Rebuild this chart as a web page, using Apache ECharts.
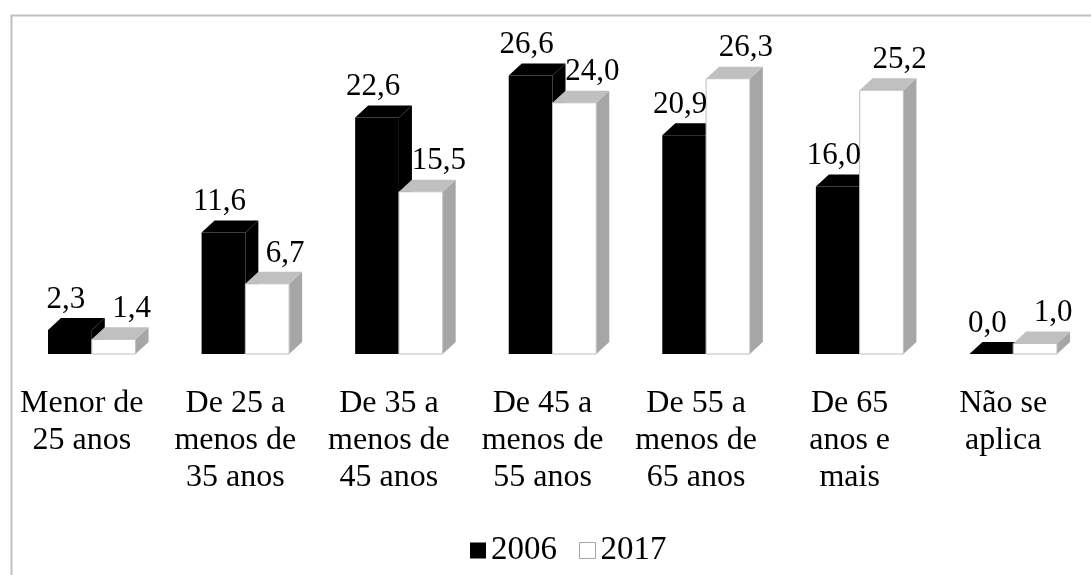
<!DOCTYPE html>
<html>
<head>
<meta charset="utf-8">
<script src="https://cdn.jsdelivr.net/npm/echarts@6/dist/echarts.min.js"></script>
<style>
  html, body { margin: 0; padding: 0; background: #fff; }
  #chart { width: 1091px; height: 575px; }
</style>
</head>
<body>
<div id="chart"></div>
<script>
var categories = [
  'Menor de\n25 anos',
  'De 25 a\nmenos de\n35 anos',
  'De 35 a\nmenos de\n45 anos',
  'De 45 a\nmenos de\n55 anos',
  'De 55 a\nmenos de\n65 anos',
  'De 65\nanos e\nmais',
  'Não se\naplica'
];
var values2006 = [2.3, 11.6, 22.6, 26.6, 20.9, 16.0, 0.0];
var values2017 = [1.4, 6.7, 15.5, 24.0, 26.3, 25.2, 1.0];

var FONT = '"Liberation Serif", "Times New Roman", serif';
var DX = 13, DY = 12;   // fake 3d depth

function fmt(v) {
  return v.toFixed(1).replace('.', ',');
}

// draws one box-shaped bar; side 0 = left of the category centre, 1 = right
function barRenderer(side, faces, labelShift) {
  return function (params, api) {
    var i = api.value(0), v = api.value(1);
    var p0 = api.coord([i, 0]);
    var p1 = api.coord([i, v]);
    var w = api.size([1, 0])[0] * 0.285;
    var x0 = side ? p0[0] : p0[0] - w;
    var x1 = x0 + w;
    var yb = p0[1], yt = p1[1];
    return {
      type: 'group',
      children: [
        {
          type: 'polygon',
          shape: { points: [[x1, yb], [x1 + DX, yb - DY], [x1 + DX, yt - DY], [x1, yt]] },
          style: { fill: faces.side }
        },
        {
          type: 'polygon',
          shape: { points: [[x0, yt], [x0 + DX, yt - DY], [x1 + DX, yt - DY], [x1, yt]] },
          style: { fill: faces.top }
        },
        {
          type: 'rect',
          shape: { x: x0, y: yt, width: w, height: yb - yt },
          style: { fill: faces.front, stroke: faces.stroke, lineWidth: 1 }
        },
        {
          type: 'text',
          z2: 100,   // keep labels above the neighbouring bar
          x: x0 + w / 2 + labelShift,
          y: yt - DY - 3,
          style: {
            text: fmt(v),
            fill: '#000',
            font: '31px ' + FONT,
            align: 'center',
            verticalAlign: 'bottom'
          }
        }
      ]
    };
  };
}

var chart = echarts.init(document.getElementById('chart'), null, { renderer: 'canvas' });

chart.setOption({
  animation: false,
  backgroundColor: '#fff',
  graphic: [{
    type: 'rect',
    left: 9, top: 13,
    shape: { width: 1100, height: 600 },
    style: { fill: null, stroke: '#bfbfbf', lineWidth: 2 },
    silent: true
  }],
  grid: { left: 15, right: 1, top: 40, bottom: 221 },
  xAxis: {
    type: 'category',
    data: categories,
    axisLine: { show: false },
    axisTick: { show: false },
    axisLabel: {
      interval: 0,
      margin: 31,
      color: '#000',
      fontFamily: FONT,
      fontSize: 32,
      lineHeight: 37,
      padding: [0, 20, 0, 0]
    }
  },
  yAxis: {
    type: 'value',
    min: 0,
    max: 30,
    show: false
  },
  legend: {
    left: 465,
    top: 529,
    icon: 'rect',
    itemWidth: 16,
    itemHeight: 16,
    itemGap: 22,
    textStyle: { fontFamily: FONT, fontSize: 33, color: '#000' },
    data: [
      { name: '2006', itemStyle: { color: '#000' } },
      { name: '2017', itemStyle: { color: '#fff', borderColor: '#a6a6a6', borderWidth: 1 } }
    ]
  },
  series: [
    {
      name: '2006',
      type: 'custom',
      itemStyle: { color: '#000' },
      renderItem: barRenderer(0, { front: '#000', top: '#000', side: '#000', stroke: null }, -4),
      data: values2006.map(function (v, i) { return [i, v]; })
    },
    {
      name: '2017',
      type: 'custom',
      itemStyle: { color: '#fff', borderColor: '#a6a6a6' },
      renderItem: barRenderer(1, { front: '#fff', top: '#c0c0c0', side: '#a6a6a6', stroke: '#bfbfbf' }, 18),
      data: values2017.map(function (v, i) { return [i, v]; })
    }
  ]
});
</script>
</body>
</html>
